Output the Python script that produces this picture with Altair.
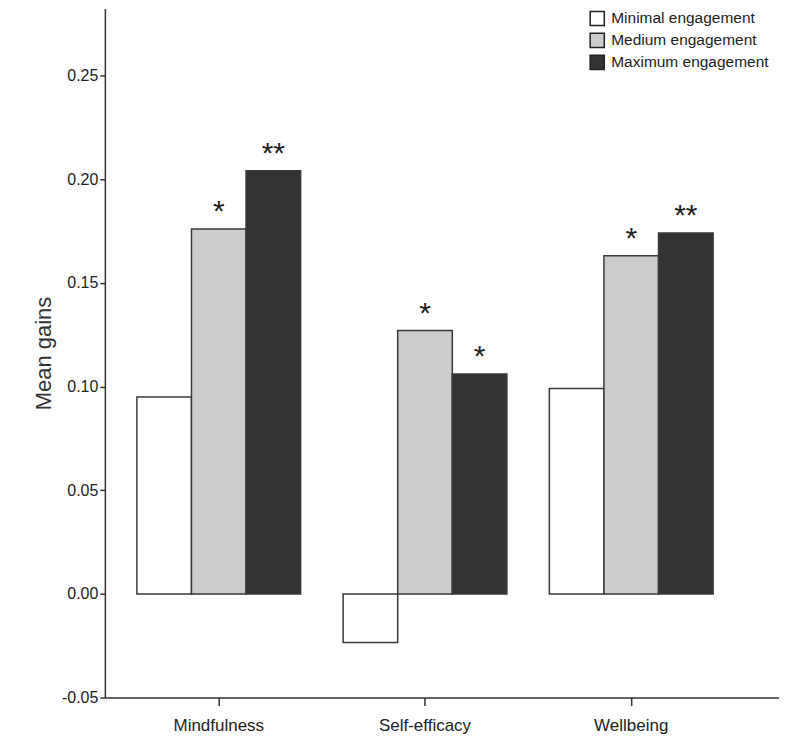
import altair as alt
import pandas as pd

measures = ["Mindfulness", "Self-efficacy", "Wellbeing"]
groups = ["Minimal engagement", "Medium engagement", "Maximum engagement"]
minimal = [0.095, -0.0235, 0.099]
medium = [0.176, 0.127, 0.163]
maximum = [0.204, 0.106, 0.174]
stars_medium = ["*", "*", "*"]
stars_maximum = ["**", "*", "**"]
colors = ["#ffffff", "#cccccc", "#333333"]

rows = []
for i, m in enumerate(measures):
    rows.append({"measure": m, "group": groups[0], "value": minimal[i], "stars": ""})
    rows.append({"measure": m, "group": groups[1], "value": medium[i], "stars": stars_medium[i]})
    rows.append({"measure": m, "group": groups[2], "value": maximum[i], "stars": stars_maximum[i]})
df = pd.DataFrame(rows)

FONT = "Liberation Sans"

x = alt.X("measure:N", sort=measures,
          scale=alt.Scale(paddingInner=0.206, paddingOuter=0.2374, align=0.327),
          axis=alt.Axis(title=None, labelAngle=0, labelFontSize=17, labelFont=FONT,
                        labelColor="#222", tickSize=8, tickColor="#333", tickWidth=1.5,
                        domainColor="#333", domainWidth=1.5, labelPadding=12))
xo = alt.XOffset("group:N", sort=groups, scale=alt.Scale(paddingInner=0, paddingOuter=0))

y = alt.Y("value:Q",
          scale=alt.Scale(domain=[-0.05, 0.2823], nice=False, zero=False),
          axis=alt.Axis(title="Mean gains", values=[-0.05, 0, 0.05, 0.10, 0.15, 0.20, 0.25],
                        labelExpr="datum.value < 0 ? '-' + format(-datum.value, '.2f') : format(datum.value, '.2f')",
                        grid=False, labelFontSize=16, labelFont=FONT,
                        labelColor="#222", tickSize=5, tickColor="#333", tickWidth=1.5,
                        domainColor="#333", domainWidth=1.5, titleFontSize=22,
                        titleFont=FONT, titleFontWeight="normal", titleColor="#333",
                        titlePadding=6, labelPadding=2))

bars = alt.Chart(df).mark_bar(stroke="#3a3a3a", strokeWidth=1.5).encode(
    x=x, xOffset=xo, y=y,
    color=alt.Color("group:N", sort=groups,
                    scale=alt.Scale(domain=groups, range=colors),
                    legend=alt.Legend(title=None, orient="none", legendX=485, legendY=2,
                                      symbolType="square", symbolSize=200,
                                      symbolStrokeColor="#222", symbolStrokeWidth=1.5,
                                      labelFontSize=15.5, labelFont=FONT, labelColor="#222",
                                      labelLimit=0, labelOffset=6, rowPadding=0, padding=0)),
)

text = alt.Chart(df).mark_text(fontSize=30, font=FONT, baseline="alphabetic",
                               dy=-8, color="#222").encode(
    x=x, xOffset=xo, y=y, text="stars:N")

chart = alt.layer(bars, text).properties(
    width=675, height=690,
    autosize=alt.AutoSizeParams(type="none"),
    padding={"left": 97, "top": 0, "right": 0, "bottom": 36},
).configure_view(stroke=None)

chart.save("out.html", embed_options={"renderer": "svg", "actions": False})
